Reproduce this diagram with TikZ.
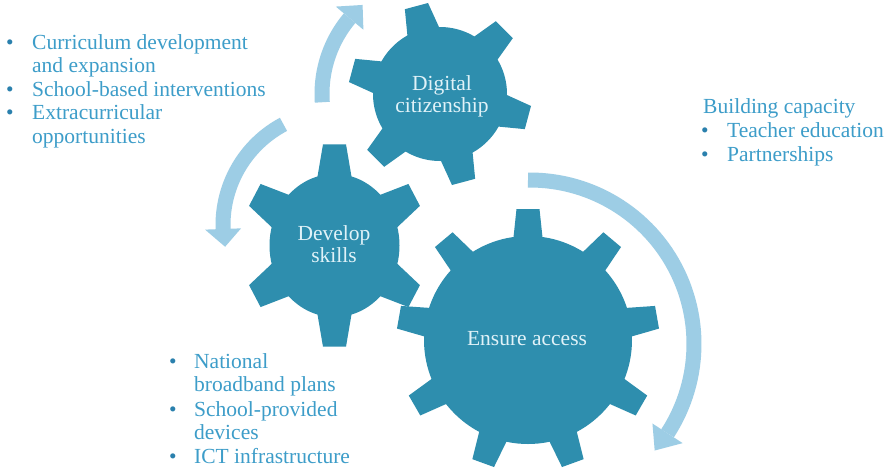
\documentclass[tikz,border=0pt]{standalone}
\usepackage{fontspec}
\setmainfont{Liberation Serif}
\definecolor{gearc}{HTML}{2E8EAE}
\definecolor{arrowc}{HTML}{9DCDE5}
\definecolor{listc}{HTML}{3D9DC9}
\definecolor{bulc}{HTML}{2A80AD}
\definecolor{gtext}{HTML}{E0F2F8}
\tikzset{
  geartext/.style={text=gtext, font=\fontsize{21.5}{22}\selectfont, align=center, inner sep=0pt},
  listtext/.style={text=listc, font=\fontsize{21.5}{23.5}\selectfont, anchor=base west, inner sep=0pt},
  bulletmark/.style={text=bulc, font=\fontsize{21.5}{23.5}\selectfont, anchor=base, inner sep=0pt},
  arrowshaft/.style={draw=arrowc, line width=15pt},
}
% #1 cx, #2 cy, #3 r, #4 tail angle, #5 base angle, #6 tip angle (visual angles)
\newcommand{\roundarrow}[6]{%
  \draw[arrowshaft] plot[domain=#4:#5, samples=60] ({#1+#3*cos(\x)}, {#2-#3*sin(\x)});
  \fill[arrowc] ({#1+(#3+18)*cos(#5)}, {#2-(#3+18)*sin(#5)})
    -- ({#1+#3*cos(#6)}, {#2-#3*sin(#6)})
    -- ({#1+(#3-18)*cos(#5)}, {#2-(#3-18)*sin(#5)}) -- cycle;
}
\begin{document}
\begin{tikzpicture}[x=1pt,y=-1pt]
\useasboundingbox (0,0) rectangle (887,475);
\fill[white] (0,0) rectangle (887,475);
\clip (0,0) rectangle (887,475);

% circular arrows
\roundarrow{440}{94}{118}{184}{140}{131}
\roundarrow{337}{225}{114}{118}{182}{191}
\roundarrow{530}{344}{164}{90.7}{-33}{-40.5}

% gear: Digital citizenship
\begin{scope}[shift={(440,94)}]
  \fill[gearc] (0,0) circle[radius=67pt];
  \foreach \a in {105,45,-15,-75,-135,165}
    \fill[gearc, rotate=\a] (61,-17) -- (91,-12) -- (91,12) -- (61,17) -- cycle;
\end{scope}

% gear: Develop skills
\begin{scope}[shift={(334.5,245.5)}, yscale=1.1]
  \fill[gearc] (0,0) circle[radius=65pt];
  \foreach \a in {90,30,-30,-90,-150,150}
    \fill[gearc, rotate=\a] (60,-17.5) -- (92,-11.5) -- (92,11.5) -- (60,17.5) -- cycle;
\end{scope}

% gear: Ensure access
\begin{scope}[shift={(528,340)}]
  \fill[gearc] (0,0) circle[radius=104pt];
  \foreach \a in {90,50,10,-30,-70,-110,-150,170,130}
    \fill[gearc, rotate=\a] (98,-15) -- (131,-11.5) -- (131,11.5) -- (98,15) -- cycle;
\end{scope}

% gear labels
\node[geartext] (dc) at (442,96.2) {Digital\\citizenship};
\node[geartext] (ds) at (334,244.3) {Develop\\skills};
\node[geartext, anchor=base] (ea) at (527,345) {Ensure access};

% left list
\node[bulletmark] (lb1) at (10,49.3) {•};
\node[listtext] (l1) at (32,49.3) {Curriculum development};
\node[listtext] (l2) at (32,72.7) {and expansion};
\node[bulletmark] (lb2) at (10,96) {•};
\node[listtext] (l3) at (32,96) {School-based interventions};
\node[bulletmark] (lb3) at (10,119.5) {•};
\node[listtext] (l4) at (32,119.5) {Extracurricular};
\node[listtext] (l5) at (32,143) {opportunities};

% right list
\node[listtext] (r0) at (703,113.3) {Building capacity};
\node[bulletmark] (rb1) at (705,137.3) {•};
\node[listtext] (r1) at (727,137.3) {Teacher education};
\node[bulletmark] (rb2) at (705,161.7) {•};
\node[listtext] (r2) at (727,161.7) {Partnerships};

% bottom list
\node[bulletmark] (bb1) at (173,368.3) {•};
\node[listtext] (b1) at (194,368.3) {National};
\node[listtext] (b2) at (194,391.7) {broadband plans};
\node[bulletmark] (bb2) at (173,416) {•};
\node[listtext] (b3) at (194,416) {School-provided};
\node[listtext] (b4) at (194,439.3) {devices};
\node[bulletmark] (bb3) at (173,463.3) {•};
\node[listtext] (b5) at (194,463.3) {ICT infrastructure};
\end{tikzpicture}
\end{document}
